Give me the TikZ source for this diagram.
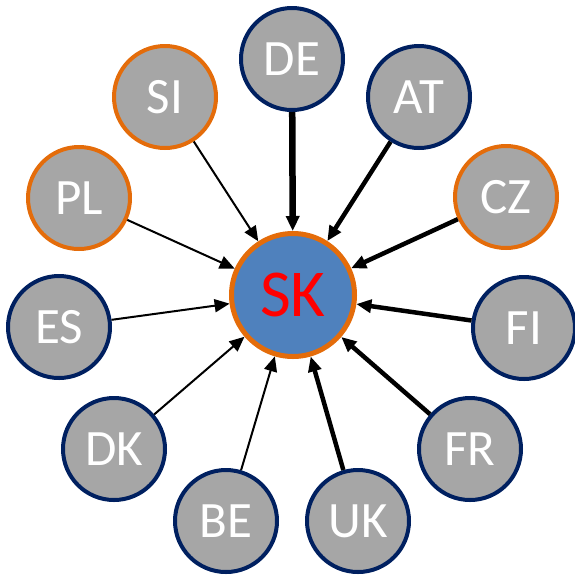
\documentclass[tikz,border=0pt]{standalone}
\usepackage{fontspec}
\setmainfont{Carlito}
\usetikzlibrary{arrows.meta}
\definecolor{cgray}{HTML}{A6A6A6}
\definecolor{cnavy}{HTML}{002060}
\definecolor{corange}{HTML}{E46C0A}
\definecolor{cblue}{HTML}{4F81BD}
\begin{document}
\begin{tikzpicture}[x=1pt, y=-1pt, line join=round,
	land/.style={circle, draw=cnavy, line width=4pt, fill=cgray, minimum size=102pt, inner sep=0pt, text=white, font=\fontsize{51}{51}\selectfont},
	nachbar/.style={land, draw=corange},
	ziel/.style={circle, draw=corange, line width=5pt, fill=cblue, minimum size=123pt, inner sep=0pt, text=red, font=\fontsize{67}{67}\selectfont},
	fluss/.style={-{Triangle[length=15pt, width=13pt]}, line width=2pt},
	fluss2/.style={fluss, line width=4.5pt},
	fluss3/.style={fluss, line width=6.5pt}]
	\useasboundingbox (0,0) rectangle (575,574);
	\node[ziel] (SK) at (293,295) {SK};
	\node[land] (DE) at (292,59) {DE};
	\node[land] (AT) at (419,97) {AT};
	\node[nachbar] (CZ) at (506,197) {CZ};
	\node[land] (FI) at (524,328) {FI};
	\node[land] (FR) at (470,449) {FR};
	\node[land] (UK) at (358,521) {UK};
	\node[land] (BE) at (226,521) {BE};
	\node[land] (DK) at (114,449) {DK};
	\node[land] (ES) at (59,327) {ES};
	\node[nachbar] (PL) at (79,198) {PL};
	\node[nachbar] (SI) at (165,97) {SI};
	% Pfeile zum Zentrum
	\draw[fluss3] (DE)--(SK);
	\draw[fluss2] (AT)--(SK);
	\draw[fluss2] (CZ)--(SK);
	\draw[fluss2] (FI)--(SK);
	\draw[fluss2] (FR)--(SK);
	\draw[fluss2] (UK)--(SK);
	\draw[fluss] (BE)--(SK);
	\draw[fluss] (DK)--(SK);
	\draw[fluss] (ES)--(SK);
	\draw[fluss] (PL)--(SK);
	\draw[fluss] (SI)--(SK);
\end{tikzpicture}
\end{document}
